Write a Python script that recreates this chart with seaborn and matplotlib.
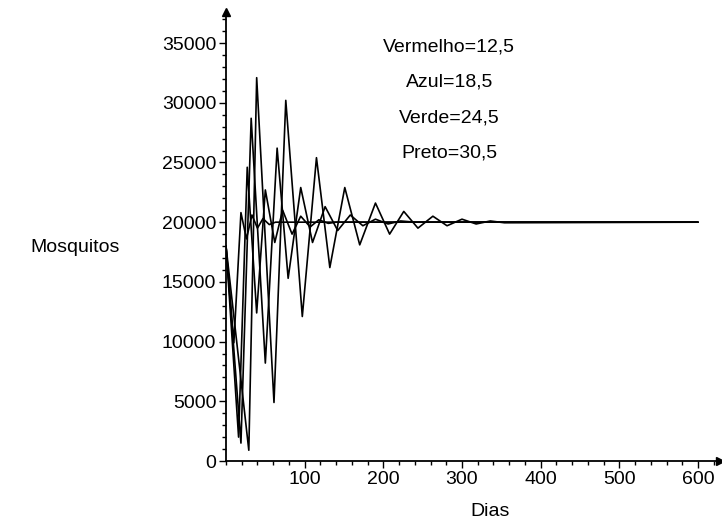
import matplotlib
matplotlib.use("Agg")
import matplotlib.pyplot as plt
import seaborn as sns
import pandas as pd
from matplotlib.ticker import MultipleLocator

# ---- data (peaks / troughs of each curve) ----
vermelho_dias = [0, 10, 19, 26, 33, 40, 47, 55, 63, 600]
vermelho_vals = [18000, 9900, 20800, 18600, 20600, 19500, 20300, 19800, 20000, 20000]

azul_dias = [0, 16, 27, 39, 50, 62, 72, 84, 95, 107, 118, 130, 140, 600]
azul_vals = [18000, 2000, 24600, 12400, 22700, 18300, 21000, 19000, 20500, 19600,
             20200, 19900, 20000, 20000]

verde_dias = [0, 19, 32, 50, 65, 79, 95, 110, 126, 142, 158, 174, 190, 206, 222, 240, 600]
verde_vals = [18000, 1500, 28700, 8200, 26200, 15300, 22900, 18300, 21300, 19300,
              20600, 19700, 20250, 19850, 20100, 20000, 20000]

preto_dias = [0, 29, 39, 61, 76, 97, 115, 132, 151, 170, 190, 208, 226, 244, 263,
              281, 300, 318, 336, 354, 600]
preto_vals = [18000, 900, 32100, 4900, 30200, 12100, 25400, 16200, 22900, 18100,
              21600, 19000, 20900, 19500, 20500, 19700, 20250, 19850, 20100, 19950, 20000]

legend_lines = ["Vermelho=12,5", "Azul=18,5", "Verde=24,5", "Preto=30,5"]
x_ticks = [100, 200, 300, 400, 500, 600]
y_ticks = [0, 5000, 10000, 15000, 20000, 25000, 30000, 35000]

frames = []
for name, d, v in [("Vermelho", vermelho_dias, vermelho_vals),
                   ("Azul", azul_dias, azul_vals),
                   ("Verde", verde_dias, verde_vals),
                   ("Preto", preto_dias, preto_vals)]:
    frames.append(pd.DataFrame({"Dias": d, "Mosquitos": v, "curva": name}))
df = pd.concat(frames, ignore_index=True)

sns.set_style("ticks")
plt.rcParams["font.family"] = ["Liberation Sans", "DejaVu Sans"]
plt.rcParams["text.color"] = "black"
plt.rcParams["xtick.color"] = "black"
plt.rcParams["ytick.color"] = "black"

FS = 14

fig = plt.figure(figsize=(7.22, 5.29), dpi=100)
ax = fig.add_axes([226 / 722, (529 - 461) / 529, (720 - 226) / 722, (461 - 12) / 529])

sns.lineplot(data=df, x="Dias", y="Mosquitos", hue="curva", units="curva",
             estimator=None, sort=False,
             palette={"Vermelho": "black", "Azul": "black", "Verde": "black", "Preto": "black"},
             linewidth=1.2, legend=False, ax=ax)

ax.set_xlim(0, 628)
ax.set_ylim(0, 37600)

for s in ["top", "right"]:
    ax.spines[s].set_visible(False)
for s in ["left", "bottom"]:
    ax.spines[s].set_color("black")
    ax.spines[s].set_linewidth(1.3)

ax.set_xticks(x_ticks)
ax.set_yticks(y_ticks)
ax.xaxis.set_minor_locator(MultipleLocator(20))
ax.yaxis.set_minor_locator(MultipleLocator(1000))
ax.tick_params(axis="both", which="major", direction="out", length=5, width=1,
               color="black", labelsize=FS, labelcolor="black",
               bottom=True, left=True)
ax.tick_params(axis="both", which="minor", direction="out", length=3, width=1,
               color="black", bottom=True, left=True)
ax.tick_params(axis="x", which="major", pad=2)
ax.tick_params(axis="y", which="major", pad=2)

# arrow heads at the axis ends
ax.plot(0, 1, marker="^", color="black", markersize=6, transform=ax.transAxes, clip_on=False)
ax.plot(1, 0, marker=">", color="black", markersize=6, transform=ax.transAxes, clip_on=False)

ax.set_xlabel("")
ax.set_ylabel("")
fig.text(75 / 722, 1 - 247 / 529, "Mosquitos", ha="center", va="center", fontsize=FS)
fig.text(490 / 722, 1 - 511 / 529, "Dias", ha="center", va="center", fontsize=FS)

for i, t in enumerate(legend_lines):
    ax.text(284, 34670 - i * 2960, t, ha="center", va="center", fontsize=FS)

fig.savefig("out.png", dpi=100)
